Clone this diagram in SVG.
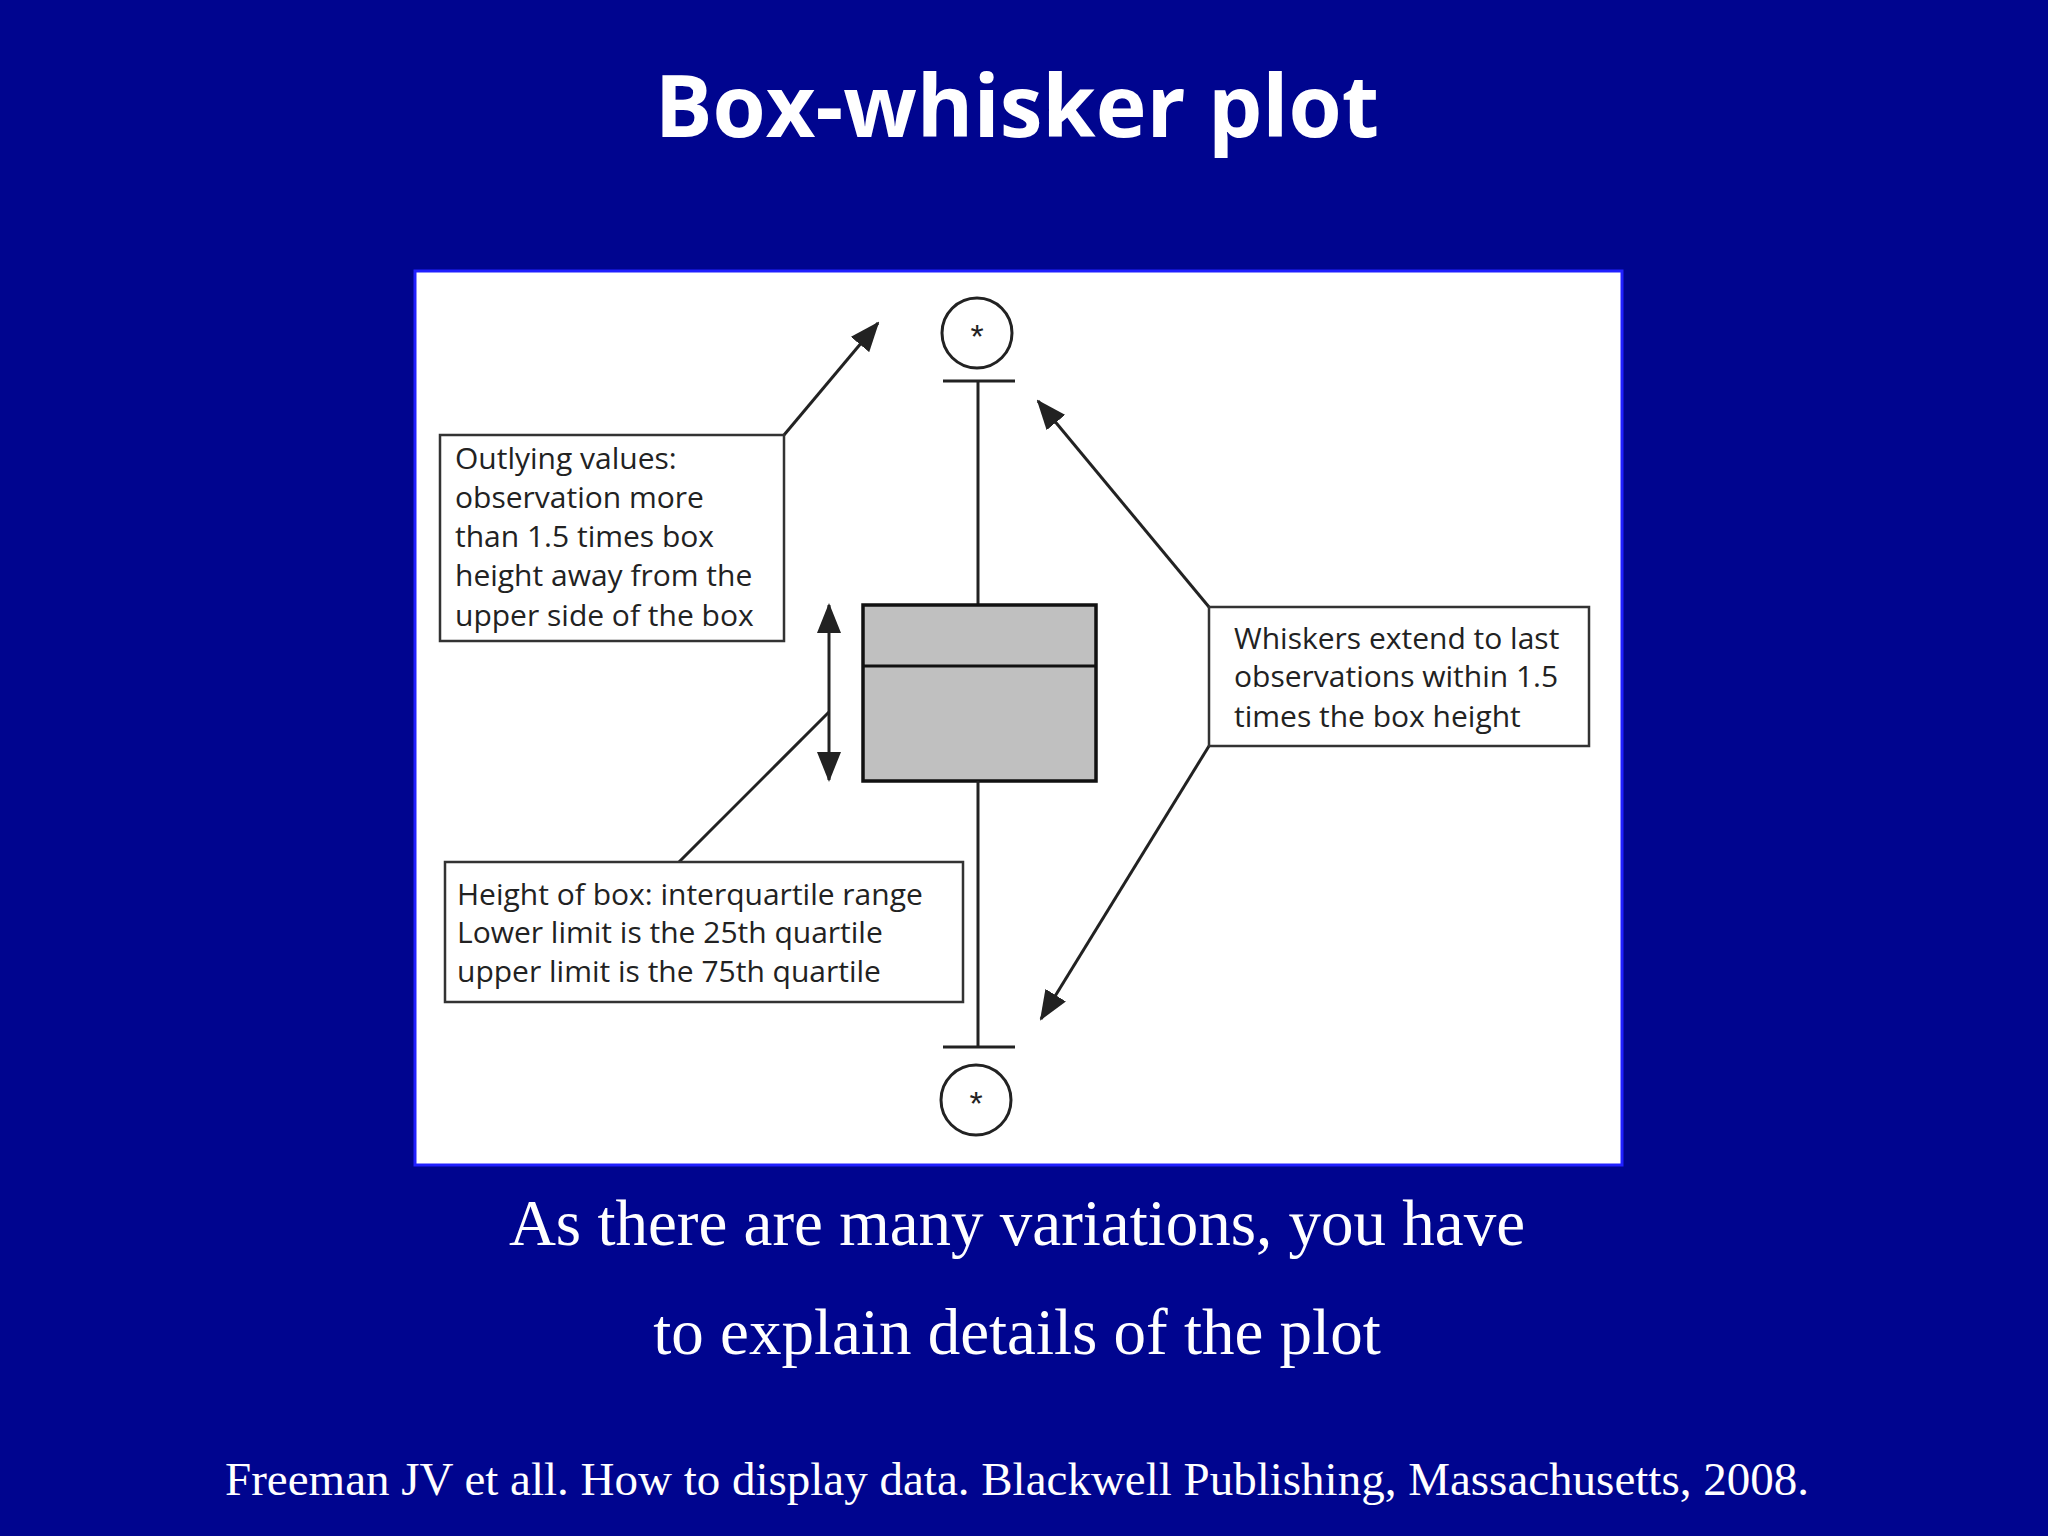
<svg xmlns="http://www.w3.org/2000/svg" width="2048" height="1536" viewBox="0 0 2048 1536">
<style>
.lbl{font-family:"Open Sans","Liberation Sans",sans-serif;font-size:30px;fill:#222}
.ln{stroke:#222;stroke-width:3;fill:none}
.bx{stroke:#333;stroke-width:2.5;fill:#fff}
.cap{font-family:"Liberation Serif",serif;fill:#fff;text-anchor:middle}
</style>
<defs><marker id="ah" markerWidth="10" markerHeight="10" refX="9" refY="5" orient="auto" markerUnits="userSpaceOnUse" viewBox="0 0 10 10"><path d="M0,0L10,5L0,10z" fill="#222"/></marker>
<marker id="ab" markerWidth="30" markerHeight="24" refX="28" refY="12" orient="auto" markerUnits="userSpaceOnUse"><path d="M0,0L30,12L0,24z" fill="#222"/></marker></defs>
<rect width="2048" height="1536" fill="#00058f"/>
<text x="1017" y="137" font-family="'Open Sans','Liberation Sans',sans-serif" font-weight="bold" font-size="86" fill="#fff" text-anchor="middle">Box-whisker plot</text>
<rect x="415" y="271" width="1207" height="894" fill="#fff" stroke="#2020ff" stroke-width="3"/>
<g id="plot">
<circle cx="977" cy="333" r="35" class="ln"/><text x="977" y="348" font-family="Liberation Sans,sans-serif" font-size="34" text-anchor="middle" fill="#222">*</text>
<line x1="943" y1="381" x2="1015" y2="381" class="ln"/>
<line x1="978" y1="381" x2="978" y2="605" class="ln"/>
<rect x="863" y="605" width="233" height="176" fill="#c0c0c0" stroke="#111" stroke-width="3.5"/>
<line x1="863" y1="666" x2="1096" y2="666" stroke="#111" stroke-width="3"/>
<line x1="978" y1="781" x2="978" y2="1047" class="ln"/>
<line x1="943" y1="1047" x2="1015" y2="1047" class="ln"/>
<circle cx="976" cy="1100" r="35" class="ln"/><text x="976" y="1115" font-family="Liberation Sans,sans-serif" font-size="34" text-anchor="middle" fill="#222">*</text>
</g>
<g id="connectors">
<line x1="784" y1="435" x2="878" y2="323" class="ln" marker-end="url(#ab)"/>
<line x1="829" y1="690" x2="829" y2="605" class="ln" marker-end="url(#ab)"/>
<line x1="829" y1="690" x2="829" y2="780" class="ln" marker-end="url(#ab)"/>
<line x1="679" y1="862" x2="829" y2="712" class="ln"/>
<line x1="1209" y1="607" x2="1038" y2="401" class="ln" marker-end="url(#ab)"/>
<line x1="1209" y1="746" x2="1041" y2="1019" class="ln" marker-end="url(#ab)"/>
</g>
<g id="outlying"><rect x="440" y="435" width="344" height="206" class="bx"/>
<text class="lbl"><tspan x="455" y="469">Outlying values:</tspan><tspan x="455" y="508">observation more</tspan><tspan x="455" y="547">than 1.5 times box</tspan><tspan x="455" y="586">height away from the</tspan><tspan x="455" y="626">upper side of the box</tspan></text></g>
<g id="height"><rect x="445" y="862" width="518" height="140" class="bx"/>
<text class="lbl"><tspan x="457" y="905">Height of box: interquartile range</tspan><tspan x="457" y="943">Lower limit is the 25th quartile</tspan><tspan x="457" y="982">upper limit is the 75th quartile</tspan></text></g>
<g id="whiskers"><rect x="1209" y="607" width="380" height="139" class="bx"/>
<text class="lbl"><tspan x="1234" y="649">Whiskers extend to last</tspan><tspan x="1234" y="687">observations within 1.5</tspan><tspan x="1234" y="727">times the box height</tspan></text></g>
<text class="cap" x="1017" y="1245" font-size="65">As there are many variations, you have</text>
<text class="cap" x="1017" y="1354" font-size="65">to explain details of the plot</text>
<text class="cap" x="1017" y="1495" font-size="47">Freeman JV et all. How to display data. Blackwell Publishing, Massachusetts, 2008.</text>
</svg>
